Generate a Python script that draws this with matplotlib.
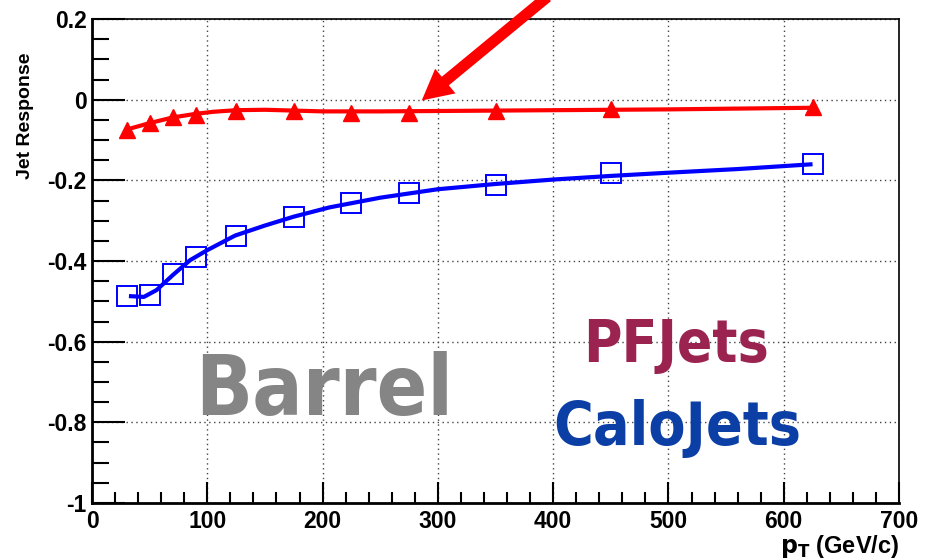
import matplotlib
matplotlib.use('Agg')
import matplotlib.pyplot as plt
from matplotlib.ticker import MultipleLocator, FuncFormatter

plt.rcParams.update({'font.family': ['Liberation Sans', 'DejaVu Sans']})
plt.rcParams.update({'font.weight': 'bold'})

# response points per pT bin
pt = [30, 50, 70, 90, 125, 175, 225, 275, 350, 450, 625]
pf_resp = [-0.074, -0.058, -0.042, -0.037, -0.029, -0.029, -0.033, -0.033, -0.027, -0.022, -0.019]
calo_resp = [-0.487, -0.484, -0.433, -0.390, -0.337, -0.290, -0.255, -0.231, -0.211, -0.182, -0.160]

# fitted response curves
pf_fit_x = [30, 50, 70, 90, 105, 125, 150, 175, 200, 250, 300, 350, 400, 500, 625]
pf_fit_y = [-0.074, -0.058, -0.044, -0.035, -0.030, -0.026, -0.025, -0.027, -0.029, -0.029,
            -0.028, -0.027, -0.026, -0.024, -0.020]
calo_fit_x = [32, 45, 56, 70, 85, 100, 124, 150, 175, 206, 250, 300, 350, 400, 450, 500, 560, 625]
calo_fit_y = [-0.487, -0.489, -0.472, -0.435, -0.398, -0.373, -0.337, -0.312, -0.290, -0.267,
              -0.243, -0.222, -0.209, -0.198, -0.189, -0.181, -0.172, -0.160]

fig = plt.figure(figsize=(9.25, 5.6), dpi=100)
ax = fig.add_axes([0.0995, 0.1018, 0.8724, 0.8642])

ax.plot(pf_fit_x, pf_fit_y, color='#ff0000', lw=3, solid_capstyle='butt', zorder=3)
ax.plot(pt, pf_resp, linestyle='None', marker='^', markersize=12, color='#ff0000', zorder=4)
ax.plot(calo_fit_x, calo_fit_y, color='#0000ff', lw=3, solid_capstyle='butt', zorder=3)
ax.plot(pt, calo_resp, linestyle='None', marker='s', markersize=14, markerfacecolor='none',
        markeredgecolor='#0000ff', markeredgewidth=1.4, zorder=4)

ax.set_xlim(0, 700)
ax.set_ylim(-1, 0.2)
ax.xaxis.set_major_locator(MultipleLocator(100))
ax.xaxis.set_minor_locator(MultipleLocator(20))
ax.yaxis.set_major_locator(MultipleLocator(0.2))
ax.yaxis.set_minor_locator(MultipleLocator(0.05))
ax.yaxis.set_major_formatter(FuncFormatter(lambda v, p: '%g' % round(v, 3)))
ax.grid(True, which='major', color='#444444', linestyle=(0, (1, 2.5)), lw=1)

ax.tick_params(axis='both', which='both', direction='in', top=False, right=False,
               labelsize=16.5, width=1.5)
ax.tick_params(axis='y', which='major', length=24, pad=4)
ax.tick_params(axis='y', which='minor', length=12)
ax.tick_params(axis='x', which='major', length=15, pad=5)
ax.tick_params(axis='x', which='minor', length=8)
for lab in ax.get_xticklabels() + ax.get_yticklabels():
    lab.set_fontweight('bold')

for side in ['left', 'bottom']:
    ax.spines[side].set_linewidth(2)
for side in ['top', 'right']:
    ax.spines[side].set_linewidth(1.2)

ax.set_ylabel('Jet Response', fontsize=14, fontweight='bold')
ax.yaxis.set_label_coords(-0.072, 0.80)
ax.set_xlabel(r'$\mathbf{p_T}$ (GeV/c)', fontsize=17, fontweight='bold', loc='right', labelpad=0)

# big arrow pointing at the PF curve
ax.annotate('', xy=(286, -0.002), xytext=(395, 0.255), annotation_clip=False,
            arrowprops=dict(arrowstyle='simple,head_length=2.2,head_width=2.3,tail_width=0.8',
                            color='#ff0000', lw=0, shrinkA=0, shrinkB=0))

ax.text(89, -0.782, 'Barrel', fontsize=60, fontweight='bold', color='#858585',
        family='DejaVu Sans', fontstretch='condensed', va='baseline', ha='left')
ax.text(426, -0.651, 'PFJets', fontsize=42, fontweight='bold', color='#9a2350',
        family='DejaVu Sans', fontstretch='condensed', va='baseline', ha='left')
ax.text(400, -0.857, 'CaloJets', fontsize=43.5, fontweight='bold', color='#0b3fa6',
        family='DejaVu Sans', fontstretch='condensed', va='baseline', ha='left')

plt.savefig('out.png', dpi=100)
